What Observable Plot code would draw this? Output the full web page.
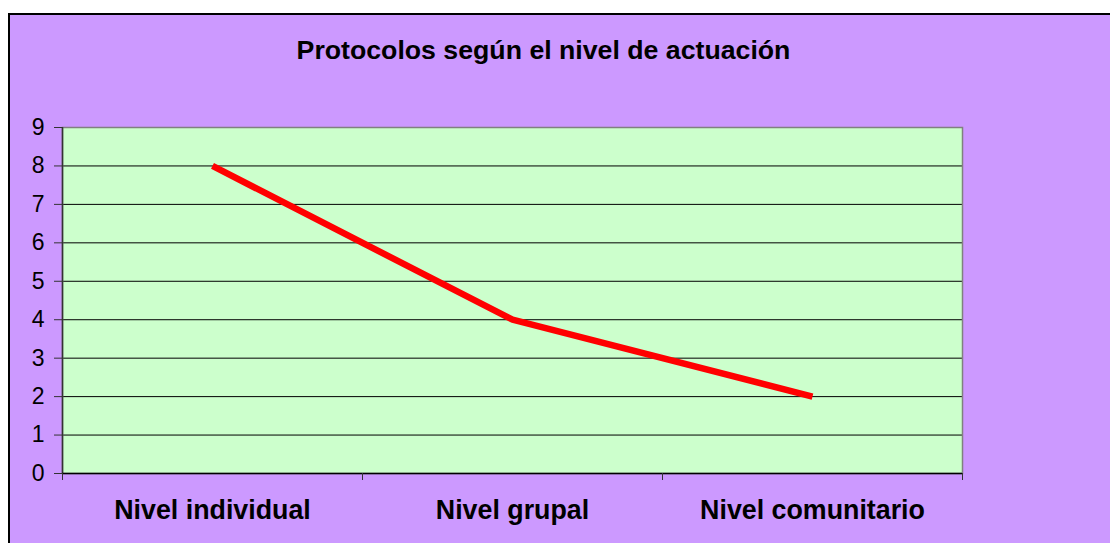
<!DOCTYPE html>
<html>
<head>
<meta charset="utf-8">
<script src="https://cdn.jsdelivr.net/npm/d3@7"></script>
<script src="https://cdn.jsdelivr.net/npm/@observablehq/plot@0.6"></script>
<style>
  html, body { margin: 0; padding: 0; background: #ffffff; overflow: hidden; width: 1110px; height: 543px; }
  #bg { position: absolute; left: 8px; top: 13px; width: 1300px; height: 800px; background: #CC99FF; border: 2px solid #000; box-sizing: border-box; }
  #title { position: absolute; left: 0; width: 1087px; top: 35px; text-align: center; font: bold 26.7px "Liberation Sans", Arial, sans-serif; color: #000; }
  #chart { position: absolute; left: 0; top: 0; }
</style>
</head>
<body>
<div id="bg"></div>
<div id="chart"></div>
<div id="title">Protocolos según el nivel de actuación</div>
<script>
const categories = ["Nivel individual", "Nivel grupal", "Nivel comunitario"];
const values = [8, 4, 2];
const yTicks = [0, 1, 2, 3, 4, 5, 6, 7, 8, 9];
const gridTicks = [1, 2, 3, 4, 5, 6, 7, 8];

const data = categories.map((c, i) => ({cat: c, pos: i + 0.5, value: values[i]}));
const boundaries = d3.range(categories.length + 1);
const centers = categories.map((c, i) => i + 0.5);

const chart = Plot.plot({
  width: 1110,
  height: 543,
  marginLeft: 62,
  marginRight: 148,
  marginTop: 127,
  marginBottom: 70,
  style: {background: "transparent", fontFamily: "'Liberation Sans', Arial, sans-serif", color: "#000"},
  x: {type: "linear", domain: [0, categories.length]},
  y: {domain: [0, 9]},
  marks: [
    Plot.frame({fill: "#CCFFCC", stroke: null}),
    Plot.gridY(gridTicks, {stroke: "#000", strokeOpacity: 1, strokeWidth: 1}),
    Plot.frame({stroke: "#808080", strokeWidth: 1.5}),
    Plot.ruleX([0], {stroke: "#333", strokeWidth: 1.5}),
    Plot.ruleY([0], {stroke: "#000", strokeWidth: 1.5}),
    Plot.axisY(yTicks, {tickSize: 8, tickPadding: 10, fontSize: 23, stroke: "#333", label: null}),
    Plot.axisX(boundaries, {tickSize: 7, tickFormat: () => "", stroke: "#333", label: null}),
    Plot.axisX(centers, {tickSize: 0, tickPadding: 26, tickFormat: d => categories[Math.round(d - 0.5)], fontSize: 26.8, fontWeight: "bold", label: null}),
    Plot.line(data, {x: "pos", y: "value", stroke: "#FF0000", strokeWidth: 6.5, strokeLinecap: "butt", strokeLinejoin: "miter"})
  ]
});
document.getElementById("chart").appendChild(chart);
</script>
</body>
</html>
